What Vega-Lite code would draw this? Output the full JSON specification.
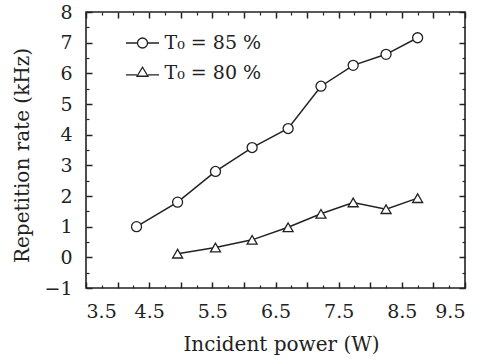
{
  "$schema": "https://vega.github.io/schema/vega-lite/v6.json",
  "width": 379,
  "height": 276,
  "autosize": "none",
  "padding": {"left": 86, "top": 12, "right": 27, "bottom": 72},
  "background": "white",
  "config": {
    "view": {"stroke": "#222", "strokeWidth": 1.6},
    "font": "DejaVu Serif",
    "axis": {"grid": false, "domainOpacity": 0, "tickColor": "#222", "labelColor": "#222", "titleColor": "#222", "labelFont": "DejaVu Serif", "titleFont": "DejaVu Serif", "labelFontSize": 19, "titleFontSize": 20, "titleFontWeight": "normal"},
    "legend": {"padding": 0}
  },
  "data": {
    "values": [
      {"series": "T₀ = 85 %", "power": 4.3, "rate": 1.0},
      {"series": "T₀ = 85 %", "power": 4.95, "rate": 1.8},
      {"series": "T₀ = 85 %", "power": 5.55, "rate": 2.8},
      {"series": "T₀ = 85 %", "power": 6.13, "rate": 3.58},
      {"series": "T₀ = 85 %", "power": 6.7, "rate": 4.2},
      {"series": "T₀ = 85 %", "power": 7.22, "rate": 5.58},
      {"series": "T₀ = 85 %", "power": 7.73, "rate": 6.26},
      {"series": "T₀ = 85 %", "power": 8.25, "rate": 6.62},
      {"series": "T₀ = 85 %", "power": 8.75, "rate": 7.16},
      {"series": "T₀ = 80 %", "power": 4.95, "rate": 0.12},
      {"series": "T₀ = 80 %", "power": 5.55, "rate": 0.32},
      {"series": "T₀ = 80 %", "power": 6.13, "rate": 0.57},
      {"series": "T₀ = 80 %", "power": 6.7, "rate": 0.98},
      {"series": "T₀ = 80 %", "power": 7.22, "rate": 1.42},
      {"series": "T₀ = 80 %", "power": 7.73, "rate": 1.79},
      {"series": "T₀ = 80 %", "power": 8.25, "rate": 1.57},
      {"series": "T₀ = 80 %", "power": 8.75, "rate": 1.93}
    ]
  },
  "layer": [
    {
      "mark": {"type": "line", "color": "#222", "strokeWidth": 1.5},
      "encoding": {
        "x": {"field": "power", "type": "quantitative", "scale": {"domain": [3.5, 9.5], "nice": false, "zero": false},
          "axis": {"orient": "bottom", "title": "Incident power (W)", "values": [3.5,4,4.5,5,5.5,6,6.5,7,7.5,8,8.5,9,9.5], "tickSize": -6, "tickWidth": 1.5, "labelPadding": 20, "titlePadding": 13, "titleX": 195, "labelExpr": "datum.value % 1 == 0.5 ? format(datum.value, '.1f') : ''"}},
        "y": {"field": "rate", "type": "quantitative", "scale": {"domain": [-1, 8], "nice": false, "zero": false},
          "axis": {"orient": "left", "title": "Repetition rate (kHz)", "values": [-1,0,1,2,3,4,5,6,7,8], "tickSize": -6, "tickWidth": 1.5, "labelPadding": 20, "titlePadding": 11, "titleY": 143, "format": "d"}},
        "detail": {"field": "series"}
      }
    },
    {
      "mark": {"type": "point", "filled": true, "fill": "white", "stroke": "#222", "strokeWidth": 1.3, "size": 100, "opacity": 1},
      "encoding": {
        "x": {"field": "power", "type": "quantitative",
          "axis": {"orient": "bottom", "title": null, "labels": false, "values": [3.75,4.25,4.75,5.25,5.75,6.25,6.75,7.25,7.75,8.25,8.75,9.25], "tickSize": -3, "tickWidth": 1.2}},
        "y": {"field": "rate", "type": "quantitative",
          "axis": {"orient": "left", "title": null, "labels": false, "values": [-0.5,0.5,1.5,2.5,3.5,4.5,5.5,6.5,7.5], "tickSize": -3, "tickWidth": 1.2}},
        "shape": {"field": "series", "type": "nominal",
          "scale": {"domain": ["T₀ = 85 %", "T₀ = 80 %"], "range": ["circle", "triangle-up"]},
          "legend": null}
      }
    },
    {
      "mark": {"type": "point", "opacity": 0},
      "encoding": {
        "x": {"field": "power", "type": "quantitative",
          "axis": {"orient": "top", "title": null, "labels": false, "values": [3.5,4,4.5,5,5.5,6,6.5,7,7.5,8,8.5,9,9.5], "tickSize": -6, "tickWidth": 1.5}},
        "y": {"field": "rate", "type": "quantitative",
          "axis": {"orient": "right", "title": null, "labels": false, "values": [-1,0,1,2,3,4,5,6,7,8], "tickSize": -6, "tickWidth": 1.5}},
        "shape": {"field": "series", "type": "nominal",
          "scale": {"domain": ["T₀ = 85 %", "T₀ = 80 %"], "range": ["M-1.27,0H-0.385M0.385,0H1.27M0.385,0A0.385,0.385,0,1,1,-0.385,0A0.385,0.385,0,1,1,0.385,0Z", "M-1.27,0.15H-0.42M0.42,0.15H1.27M-0.42,0.25L0.42,0.25L0,-0.45Z"]},
          "legend": {"title": null, "orient": "none", "legendX": 42.5, "legendY": 17, "symbolSize": 676, "rowPadding": 6, "labelFontSize": 19, "labelFont": "DejaVu Serif", "labelColor": "#222", "labelOffset": 8, "symbolOpacity": 1, "symbolFillColor": "white", "symbolStrokeColor": "#222", "symbolStrokeWidth": 1.3}}
      }
    },
    {
      "mark": {"type": "point", "opacity": 0},
      "encoding": {
        "x": {"field": "power", "type": "quantitative",
          "axis": {"orient": "top", "title": null, "labels": false, "values": [3.75,4.25,4.75,5.25,5.75,6.25,6.75,7.25,7.75,8.25,8.75,9.25], "tickSize": -3, "tickWidth": 1.2}},
        "y": {"field": "rate", "type": "quantitative",
          "axis": {"orient": "right", "title": null, "labels": false, "values": [-0.5,0.5,1.5,2.5,3.5,4.5,5.5,6.5,7.5], "tickSize": -3, "tickWidth": 1.2}}
      }
    }
  ],
  "resolve": {"axis": {"x": "independent", "y": "independent"}, "scale": {"shape": "independent"}}
}
